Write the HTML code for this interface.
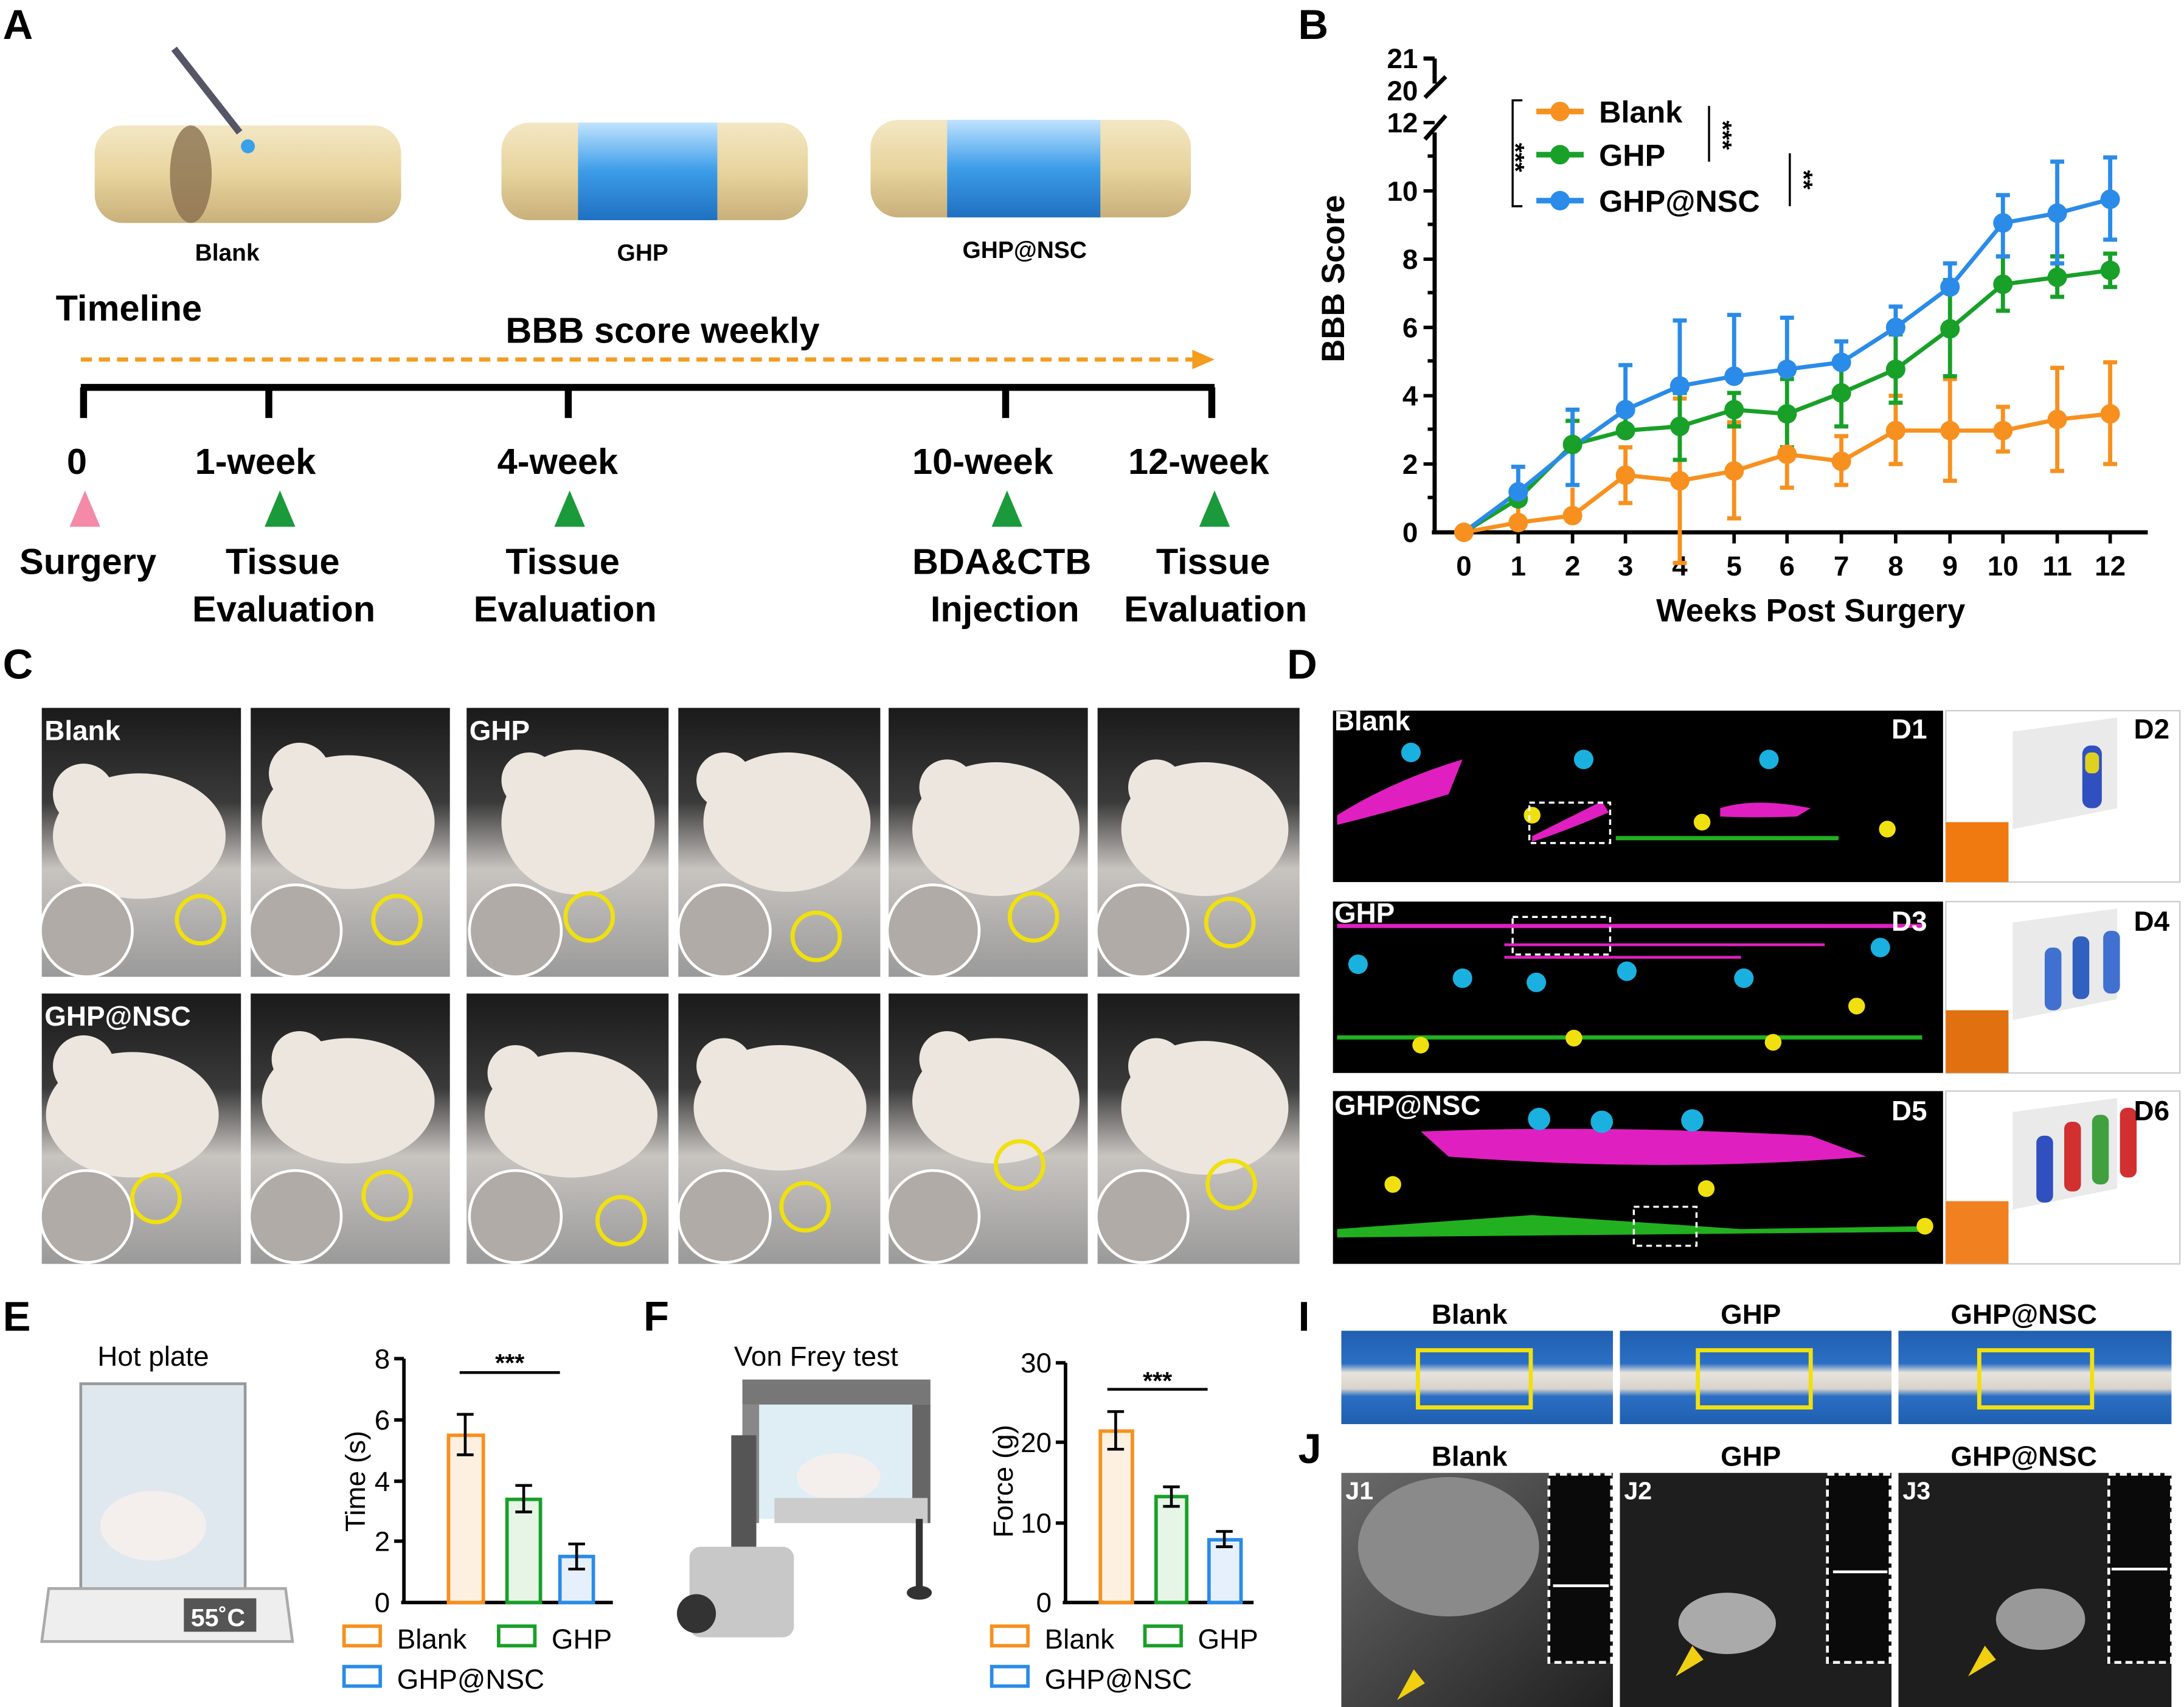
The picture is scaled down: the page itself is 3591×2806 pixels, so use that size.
<!DOCTYPE html>
<html><head><meta charset="utf-8"><style>
html,body{margin:0;padding:0;background:#fff;}
svg{display:block;}
text{font-family:"Liberation Sans",Arial,sans-serif;font-weight:bold;}
</style></head><body>
<svg width="3591" height="2806" viewBox="0 0 1568 1225" preserveAspectRatio="none" xmlns="http://www.w3.org/2000/svg">
<defs>
<linearGradient id="cyl" x1="0" y1="0" x2="0" y2="1"><stop offset="0" stop-color="#f3e7c4"/><stop offset="0.5" stop-color="#e8d49e"/><stop offset="1" stop-color="#c9b07a"/></linearGradient>
<linearGradient id="blu" x1="0" y1="0" x2="0" y2="1"><stop offset="0" stop-color="#bfe3ff"/><stop offset="0.5" stop-color="#3c9ce8"/><stop offset="1" stop-color="#1f70c0"/></linearGradient>
<linearGradient id="photo" x1="0" y1="0" x2="0" y2="1"><stop offset="0" stop-color="#1a1a1a"/><stop offset="0.35" stop-color="#3a3a3a"/><stop offset="0.6" stop-color="#c8c4c0"/><stop offset="1" stop-color="#9a9a9a"/></linearGradient>
<linearGradient id="strip" x1="0" y1="0" x2="0" y2="1"><stop offset="0" stop-color="#1f5fb0"/><stop offset="0.35" stop-color="#2b6fc4"/><stop offset="0.45" stop-color="#e8e4dc"/><stop offset="0.62" stop-color="#d8d4cc"/><stop offset="0.7" stop-color="#2b6fc4"/><stop offset="1" stop-color="#1f5fb0"/></linearGradient>
<linearGradient id="mri" x1="0" y1="0" x2="1" y2="1"><stop offset="0" stop-color="#6a6a6a"/><stop offset="1" stop-color="#202020"/></linearGradient>
</defs>
<text x="2" y="28" font-size="30">A</text>
<text x="932" y="28" font-size="30">B</text>
<text x="2" y="487" font-size="30">C</text>
<text x="924" y="487" font-size="30">D</text>
<text x="2" y="955" font-size="30">E</text>
<text x="462" y="955" font-size="30">F</text>
<text x="932" y="955" font-size="30">I</text>
<text x="932" y="1050" font-size="30">J</text>

<g>
<rect x="68" y="90" width="220" height="70" rx="20" fill="url(#cyl)"/>
<ellipse cx="137" cy="125" rx="15" ry="35" fill="#8a7150" opacity="0.8"/>
<line x1="125" y1="35" x2="172" y2="95" stroke="#556" stroke-width="5"/>
<circle cx="178" cy="105" r="5" fill="#3aa0e8"/>
<text x="140" y="187" font-size="17">Blank</text>
<rect x="360" y="88" width="220" height="70" rx="20" fill="url(#cyl)"/>
<rect x="415" y="88" width="100" height="70" fill="url(#blu)"/>
<text x="443" y="187" font-size="17">GHP</text>
<rect x="625" y="86" width="230" height="70" rx="20" fill="url(#cyl)"/>
<rect x="680" y="86" width="110" height="70" fill="url(#blu)"/>
<text x="691" y="185" font-size="17">GHP@NSC</text>
</g>
<text x="40" y="230" font-size="26">Timeline</text>
<text x="363" y="246" font-size="26">BBB score weekly</text>
<line x1="58" y1="258" x2="858" y2="258" stroke="#f39c1f" stroke-width="3" stroke-dasharray="8,5"/>
<polygon points="856,251 872,258 856,265" fill="#f39c1f"/>
<line x1="58" y1="278" x2="872" y2="278" stroke="#000" stroke-width="5"/>
<g stroke="#000" stroke-width="5">
<line x1="60" y1="278" x2="60" y2="300"/><line x1="193" y1="278" x2="193" y2="300"/><line x1="408" y1="278" x2="408" y2="300"/><line x1="722" y1="278" x2="722" y2="300"/><line x1="870" y1="278" x2="870" y2="300"/>
</g>
<g font-size="26">
<text x="48" y="340">0</text><text x="140" y="340">1-week</text><text x="357" y="340">4-week</text><text x="655" y="340">10-week</text><text x="810" y="340">12-week</text>
<text x="14" y="412">Surgery</text><text x="162" y="412">Tissue</text><text x="363" y="412">Tissue</text><text x="655" y="412">BDA&amp;CTB</text><text x="830" y="412">Tissue</text>
<text x="138" y="446">Evaluation</text><text x="340" y="446">Evaluation</text><text x="668" y="446">Injection</text><text x="807" y="446">Evaluation</text>
</g>
<polygon points="61,352 50,378 72,378" fill="#f48aa8"/>
<polygon points="201,352 190,378 212,378" fill="#1a9a3a"/>
<polygon points="409,352 398,378 420,378" fill="#1a9a3a"/>
<polygon points="723,352 712,378 734,378" fill="#1a9a3a"/>
<polygon points="872,352 861,378 883,378" fill="#1a9a3a"/>

<g stroke="#000" stroke-width="3" fill="none">
<line x1="1030" y1="42" x2="1030" y2="60"/>
<line x1="1030" y1="95" x2="1030" y2="383"/>
<line x1="1022" y1="42" x2="1030" y2="42"/>
<line x1="1023" y1="70" x2="1038" y2="55"/>
<line x1="1023" y1="100" x2="1038" y2="83"/>
<line x1="1028" y1="382" x2="1542" y2="382"/>
</g>
<g stroke="#000" stroke-width="2.5">
<line x1="1022" y1="88" x2="1030" y2="88"/>
<line x1="1022" y1="137" x2="1030" y2="137"/><line x1="1022" y1="186" x2="1030" y2="186"/><line x1="1022" y1="235" x2="1030" y2="235"/><line x1="1022" y1="284" x2="1030" y2="284"/><line x1="1022" y1="333" x2="1030" y2="333"/>
<line x1="1025" y1="112" x2="1030" y2="112"/><line x1="1025" y1="161" x2="1030" y2="161"/><line x1="1025" y1="210" x2="1030" y2="210"/><line x1="1025" y1="259" x2="1030" y2="259"/><line x1="1025" y1="308" x2="1030" y2="308"/><line x1="1025" y1="357" x2="1030" y2="357"/>
</g>
<g font-size="20" text-anchor="end">
<text x="1018" y="49">21</text><text x="1018" y="72">20</text><text x="1018" y="95">12</text><text x="1018" y="144">10</text><text x="1018" y="193">8</text><text x="1018" y="242">6</text><text x="1018" y="291">4</text><text x="1018" y="340">2</text><text x="1018" y="389">0</text>
</g>
<g font-size="20" text-anchor="middle">
<text x="1051" y="413">0</text><text x="1090" y="413">1</text><text x="1129" y="413">2</text><text x="1167" y="413">3</text><text x="1206" y="413">4</text><text x="1245" y="413">5</text><text x="1283" y="413">6</text><text x="1322" y="413">7</text><text x="1361" y="413">8</text><text x="1400" y="413">9</text><text x="1438" y="413">10</text><text x="1477" y="413">11</text><text x="1515" y="413">12</text>
</g>
<g stroke="#000" stroke-width="2.5">
<line x1="1090" y1="382" x2="1090" y2="390"/><line x1="1129" y1="382" x2="1129" y2="390"/><line x1="1167" y1="382" x2="1167" y2="390"/><line x1="1206" y1="382" x2="1206" y2="390"/><line x1="1245" y1="382" x2="1245" y2="390"/><line x1="1283" y1="382" x2="1283" y2="390"/><line x1="1322" y1="382" x2="1322" y2="390"/><line x1="1361" y1="382" x2="1361" y2="390"/><line x1="1400" y1="382" x2="1400" y2="390"/><line x1="1438" y1="382" x2="1438" y2="390"/><line x1="1477" y1="382" x2="1477" y2="390"/><line x1="1515" y1="382" x2="1515" y2="390"/>
</g>
<text x="1300" y="446" font-size="23" text-anchor="middle">Weeks Post Surgery</text>
<text transform="translate(965,200) rotate(-90)" font-size="23" text-anchor="middle">BBB Score</text>
<path d="M1093,72 H1086 V148 H1093" stroke="#000" stroke-width="1.5" fill="none"/>
<text transform="translate(1082,113) rotate(90)" font-size="18" text-anchor="middle">***</text>
<line x1="1227" y1="76" x2="1227" y2="116" stroke="#000" stroke-width="1.5"/>
<text transform="translate(1231,97) rotate(90)" font-size="18" text-anchor="middle">***</text>
<line x1="1285" y1="110" x2="1285" y2="148" stroke="#000" stroke-width="1.5"/>
<text transform="translate(1289,129) rotate(90)" font-size="18" text-anchor="middle">**</text>
<g stroke-width="4">
<line x1="1103" y1="80" x2="1137" y2="80" stroke="#f7901e"/><circle cx="1120" cy="80" r="7" fill="#f7901e"/>
<line x1="1103" y1="111" x2="1137" y2="111" stroke="#18a028"/><circle cx="1120" cy="111" r="7" fill="#18a028"/>
<line x1="1103" y1="144" x2="1137" y2="144" stroke="#2a8be8"/><circle cx="1120" cy="144" r="7" fill="#2a8be8"/>
</g>
<text x="1148" y="88" font-size="22">Blank</text>
<text x="1148" y="119" font-size="22">GHP</text>
<text x="1148" y="152" font-size="22">GHP@NSC</text>
<g fill="none" stroke-width="3">
<g stroke="#f7901e">
<polyline points="1051,382 1090,375 1129,370 1167,341 1206,345 1245,338 1283,326 1322,331 1361,309 1400,309 1438,309 1477,301 1515,297"/>
<path d="M1090,375V362M1129,370V350M1167,341V321M1167,341V361M1206,345V286M1206,345V404M1245,338V303M1245,338V372M1283,326V301M1283,326V350M1322,331V313M1322,331V348M1361,309V284M1361,309V333M1400,309V272M1400,309V345M1438,309V292M1438,309V324M1477,301V264M1477,301V338M1515,297V260M1515,297V333"/>
<path d="M1162,321h10M1162,361h10M1201,286h10M1201,404h10M1240,303h10M1240,372h10M1278,301h10M1278,350h10M1317,313h10M1317,348h10M1356,284h10M1356,333h10M1395,272h10M1395,345h10M1433,292h10M1433,324h10M1472,264h10M1472,338h10M1510,260h10M1510,333h10"/>
</g>
<g stroke="#18a028">
<polyline points="1051,382 1090,358 1129,319 1167,309 1206,306 1245,294 1283,297 1322,282 1361,265 1400,236 1438,204 1477,199 1515,194"/>
<path d="M1129,319V302M1167,309V294M1206,306V282M1206,306V330M1245,294V282M1245,294V306M1283,297V272M1283,297V321M1322,282V257M1322,282V306M1361,265V240M1361,265V289M1400,236V201M1400,236V270M1438,204V184M1438,204V223M1477,199V184M1477,199V213M1515,194V182M1515,194V206"/>
<path d="M1124,302h10M1162,294h10M1201,282h10M1201,330h10M1240,282h10M1240,306h10M1278,272h10M1278,321h10M1317,257h10M1317,306h10M1356,240h10M1356,289h10M1395,201h10M1395,270h10M1433,184h10M1433,223h10M1472,184h10M1472,213h10M1510,182h10M1510,206h10"/>
</g>
<g stroke="#2a8be8">
<polyline points="1051,382 1090,353 1129,321 1167,294 1206,277 1245,270 1283,265 1322,260 1361,235 1400,206 1438,160 1477,153 1515,143"/>
<path d="M1090,353V335M1129,321V294M1129,321V348M1167,294V262M1206,277V230M1245,270V226M1283,265V228M1322,260V245M1361,235V220M1400,206V189M1438,160V140M1438,160V184M1477,153V116M1477,153V189M1515,143V113M1515,143V172"/>
<path d="M1085,335h10M1124,294h10M1124,348h10M1162,262h10M1201,230h10M1240,226h10M1278,228h10M1317,245h10M1356,220h10M1395,189h10M1433,140h10M1433,184h10M1472,116h10M1472,189h10M1510,113h10M1510,172h10"/>
</g>
</g>
<g fill="#f7901e"><circle cx="1051" cy="382" r="7"/><circle cx="1090" cy="375" r="7"/><circle cx="1129" cy="370" r="7"/><circle cx="1167" cy="341" r="7"/><circle cx="1206" cy="345" r="7"/><circle cx="1245" cy="338" r="7"/><circle cx="1283" cy="326" r="7"/><circle cx="1322" cy="331" r="7"/><circle cx="1361" cy="309" r="7"/><circle cx="1400" cy="309" r="7"/><circle cx="1438" cy="309" r="7"/><circle cx="1477" cy="301" r="7"/><circle cx="1515" cy="297" r="7"/></g>
<g fill="#18a028"><circle cx="1090" cy="358" r="7"/><circle cx="1129" cy="319" r="7"/><circle cx="1167" cy="309" r="7"/><circle cx="1206" cy="306" r="7"/><circle cx="1245" cy="294" r="7"/><circle cx="1283" cy="297" r="7"/><circle cx="1322" cy="282" r="7"/><circle cx="1361" cy="265" r="7"/><circle cx="1400" cy="236" r="7"/><circle cx="1438" cy="204" r="7"/><circle cx="1477" cy="199" r="7"/><circle cx="1515" cy="194" r="7"/></g>
<g fill="#2a8be8"><circle cx="1090" cy="353" r="7"/><circle cx="1167" cy="294" r="7"/><circle cx="1206" cy="277" r="7"/><circle cx="1245" cy="270" r="7"/><circle cx="1283" cy="265" r="7"/><circle cx="1322" cy="260" r="7"/><circle cx="1361" cy="235" r="7"/><circle cx="1400" cy="206" r="7"/><circle cx="1438" cy="160" r="7"/><circle cx="1477" cy="153" r="7"/><circle cx="1515" cy="143" r="7"/></g>

<g>
<rect x="30" y="508" width="143" height="193" fill="url(#photo)"/>
<rect x="180" y="508" width="143" height="193" fill="url(#photo)"/>
<rect x="335" y="508" width="145" height="193" fill="url(#photo)"/>
<rect x="487" y="508" width="145" height="193" fill="url(#photo)"/>
<rect x="638" y="508" width="143" height="193" fill="url(#photo)"/>
<rect x="788" y="508" width="145" height="193" fill="url(#photo)"/>
<rect x="30" y="713" width="143" height="194" fill="url(#photo)"/>
<rect x="180" y="713" width="143" height="194" fill="url(#photo)"/>
<rect x="335" y="713" width="145" height="194" fill="url(#photo)"/>
<rect x="487" y="713" width="145" height="194" fill="url(#photo)"/>
<rect x="638" y="713" width="143" height="194" fill="url(#photo)"/>
<rect x="788" y="713" width="145" height="194" fill="url(#photo)"/>
</g>
<g fill="#ece6de">
<ellipse cx="100" cy="600" rx="62" ry="45"/><circle cx="60" cy="570" r="22"/>
<ellipse cx="250" cy="590" rx="62" ry="48"/><circle cx="215" cy="555" r="22"/>
<ellipse cx="415" cy="590" rx="55" ry="52"/><circle cx="380" cy="560" r="20"/>
<ellipse cx="565" cy="590" rx="60" ry="50"/><circle cx="520" cy="560" r="20"/>
<ellipse cx="715" cy="595" rx="60" ry="48"/><circle cx="680" cy="565" r="20"/>
<ellipse cx="865" cy="595" rx="60" ry="48"/><circle cx="830" cy="565" r="20"/>
<ellipse cx="95" cy="800" rx="62" ry="45"/><circle cx="60" cy="765" r="22"/>
<ellipse cx="250" cy="790" rx="62" ry="45"/><circle cx="215" cy="760" r="20"/>
<ellipse cx="410" cy="800" rx="62" ry="45"/><circle cx="370" cy="770" r="20"/>
<ellipse cx="560" cy="795" rx="62" ry="45"/><circle cx="520" cy="765" r="20"/>
<ellipse cx="715" cy="790" rx="60" ry="45"/><circle cx="680" cy="760" r="20"/>
<ellipse cx="865" cy="795" rx="60" ry="48"/><circle cx="830" cy="765" r="20"/>
</g>
<g fill="#b0aba6" stroke="#fff" stroke-width="2">
<circle cx="62" cy="668" r="33"/><circle cx="212" cy="668" r="33"/><circle cx="370" cy="668" r="33"/><circle cx="520" cy="668" r="33"/><circle cx="670" cy="668" r="33"/><circle cx="820" cy="668" r="33"/>
<circle cx="62" cy="873" r="33"/><circle cx="212" cy="873" r="33"/><circle cx="370" cy="873" r="33"/><circle cx="520" cy="873" r="33"/><circle cx="670" cy="873" r="33"/><circle cx="820" cy="873" r="33"/>
</g>
<g fill="none" stroke="#f0e010" stroke-width="3">
<circle cx="144" cy="660" r="17"/><circle cx="285" cy="660" r="17"/><circle cx="423" cy="658" r="17"/><circle cx="586" cy="672" r="17"/><circle cx="742" cy="658" r="17"/><circle cx="883" cy="662" r="17"/>
<circle cx="112" cy="860" r="17"/><circle cx="278" cy="858" r="17"/><circle cx="446" cy="876" r="17"/><circle cx="578" cy="866" r="17"/><circle cx="732" cy="836" r="17"/><circle cx="884" cy="850" r="17"/>
</g>
<g fill="#fff" font-size="20"><text x="32" y="531">Blank</text><text x="337" y="531">GHP</text><text x="32" y="736">GHP@NSC</text></g>

<rect x="957" y="510" width="438" height="123" fill="#000"/>
<rect x="957" y="647" width="438" height="123" fill="#000"/>
<rect x="957" y="783" width="438" height="124" fill="#000"/>
<g fill="#e01fc0">
<path d="M960,585 Q1000,560 1050,545 L1040,570 Q1000,582 960,592Z"/>
<path d="M1100,600 Q1130,585 1150,575 L1155,583 Q1120,598 1100,604Z"/>
<path d="M1235,580 Q1260,572 1300,580 L1290,586 Q1260,587 1235,586Z"/>
<rect x="960" y="663" width="420" height="3"/><rect x="1080" y="677" width="230" height="2"/><rect x="1080" y="686" width="170" height="2"/>
<path d="M1020,812 Q1150,807 1300,815 L1340,830 Q1200,842 1040,830Z"/>
</g>
<g fill="#22b020"><rect x="960" y="743" width="420" height="3"/><rect x="1160" y="600" width="160" height="3"/><path d="M960,882 L1100,872 L1250,882 L1380,880 L1380,884 L960,888Z"/></g>
<g fill="#1ab0e0"><circle cx="1013" cy="540" r="7"/><circle cx="1137" cy="545" r="7"/><circle cx="1270" cy="545" r="7"/><circle cx="975" cy="692" r="7"/><circle cx="1050" cy="702" r="7"/><circle cx="1103" cy="705" r="7"/><circle cx="1168" cy="697" r="7"/><circle cx="1252" cy="702" r="7"/><circle cx="1350" cy="680" r="7"/><circle cx="1105" cy="803" r="8"/><circle cx="1150" cy="805" r="8"/><circle cx="1215" cy="804" r="8"/></g>
<g fill="#f0e010"><circle cx="1100" cy="585" r="6"/><circle cx="1222" cy="590" r="6"/><circle cx="1355" cy="595" r="6"/><circle cx="1020" cy="750" r="6"/><circle cx="1130" cy="745" r="6"/><circle cx="1273" cy="748" r="6"/><circle cx="1333" cy="722" r="6"/><circle cx="1000" cy="850" r="6"/><circle cx="1225" cy="853" r="6"/><circle cx="1382" cy="880" r="6"/></g>
<g fill="none" stroke="#fff" stroke-width="1.5" stroke-dasharray="4,3"><rect x="1098" y="576" width="58" height="29"/><rect x="1086" y="658" width="70" height="27"/><rect x="1173" y="866" width="45" height="28"/></g>
<g fill="#fff" font-size="20"><text x="958" y="524">Blank</text><text x="958" y="662">GHP</text><text x="958" y="800">GHP@NSC</text><text x="1358" y="530">D1</text><text x="1358" y="668">D3</text><text x="1358" y="804">D5</text></g>
<g>
<rect x="1397" y="510" width="168" height="123" fill="#fff" stroke="#ccc"/>
<rect x="1397" y="647" width="168" height="123" fill="#fff" stroke="#ccc"/>
<rect x="1397" y="783" width="168" height="124" fill="#fff" stroke="#ccc"/>
<rect x="1397" y="590" width="45" height="43" fill="#f07a10"/>
<rect x="1397" y="725" width="45" height="45" fill="#e07010"/>
<rect x="1397" y="862" width="45" height="45" fill="#f08020"/>
<polygon points="1445,525 1520,515 1520,580 1445,595" fill="#eaeaea"/>
<polygon points="1445,662 1520,652 1520,717 1445,732" fill="#eaeaea"/>
<polygon points="1445,798 1520,788 1520,853 1445,868" fill="#eaeaea"/>
<rect x="1495" y="535" width="14" height="45" rx="6" fill="#3050c0"/><rect x="1497" y="540" width="10" height="15" rx="4" fill="#e0d020"/>
<rect x="1468" y="680" width="12" height="45" rx="5" fill="#4070d0"/><rect x="1488" y="672" width="12" height="45" rx="5" fill="#3060c0"/><rect x="1510" y="668" width="12" height="45" rx="5" fill="#4070d0"/>
<rect x="1462" y="815" width="12" height="48" rx="5" fill="#3050c0"/><rect x="1482" y="805" width="12" height="50" rx="5" fill="#d03030"/><rect x="1502" y="800" width="12" height="50" rx="5" fill="#40a040"/><rect x="1522" y="795" width="12" height="50" rx="5" fill="#d03030"/>
<g font-size="20" fill="#000"><text x="1532" y="530">D2</text><text x="1532" y="668">D4</text><text x="1532" y="804">D6</text></g>
</g>

<text x="70" y="980" font-size="20" style="font-weight:normal">Hot plate</text>
<rect x="58" y="993" width="118" height="150" fill="#dfe8ee" stroke="#999" stroke-width="2"/>
<ellipse cx="110" cy="1095" rx="38" ry="25" fill="#f4efec"/>
<polygon points="35,1140 205,1140 210,1178 30,1178" fill="#eeeeee" stroke="#aaa" stroke-width="2"/>
<rect x="132" y="1147" width="52" height="24" fill="#555"/>
<text x="137" y="1167" font-size="18" fill="#fff">55˚C</text>
<line x1="290" y1="975" x2="290" y2="1151" stroke="#000" stroke-width="2.5"/>
<line x1="288" y1="1150" x2="440" y2="1150" stroke="#000" stroke-width="2.5"/>
<g stroke="#000" stroke-width="2.5"><line x1="283" y1="975" x2="290" y2="975"/><line x1="283" y1="1019" x2="290" y2="1019"/><line x1="283" y1="1063" x2="290" y2="1063"/><line x1="283" y1="1106" x2="290" y2="1106"/></g>
<g font-size="20" text-anchor="end"><text x="280" y="982" style="font-weight:normal">8</text><text x="280" y="1026" style="font-weight:normal">6</text><text x="280" y="1070" style="font-weight:normal">4</text><text x="280" y="1113" style="font-weight:normal">2</text><text x="280" y="1157" style="font-weight:normal">0</text></g>
<text transform="translate(262,1063) rotate(-90)" font-size="20" text-anchor="middle" style="font-weight:normal">Time (s)</text>
<rect x="322" y="1030" width="25" height="120" fill="#fdf0e0" stroke="#f7901e" stroke-width="2.5"/>
<rect x="364" y="1076" width="24" height="74" fill="#e6f5e6" stroke="#18a028" stroke-width="2.5"/>
<rect x="402" y="1117" width="24" height="33" fill="#e6f0fc" stroke="#2a8be8" stroke-width="2.5"/>
<g stroke="#000" stroke-width="2"><path d="M334,1015V1044M328,1015h12M328,1044h12M376,1066V1085M370,1066h12M370,1085h12M414,1108V1126M408,1108h12M408,1126h12"/><line x1="330" y1="985" x2="402" y2="985"/></g>
<text x="366" y="984" font-size="18" text-anchor="middle">***</text>
<g font-size="20">
<rect x="247" y="1167" width="26" height="14" fill="none" stroke="#f7901e" stroke-width="2.5"/><text x="285" y="1183" style="font-weight:normal">Blank</text>
<rect x="358" y="1167" width="26" height="14" fill="none" stroke="#18a028" stroke-width="2.5"/><text x="396" y="1183" style="font-weight:normal">GHP</text>
<rect x="247" y="1196" width="26" height="14" fill="none" stroke="#2a8be8" stroke-width="2.5"/><text x="285" y="1212" style="font-weight:normal">GHP@NSC</text>
</g>

<text x="527" y="980" font-size="20" style="font-weight:normal">Von Frey test</text>
<rect x="533" y="990" width="135" height="18" fill="#777"/>
<rect x="545" y="1008" width="110" height="82" fill="#dfeef5"/>
<rect x="533" y="1008" width="12" height="85" fill="#888"/><rect x="655" y="1008" width="13" height="85" fill="#666"/>
<ellipse cx="602" cy="1060" rx="30" ry="17" fill="#f4efec"/>
<rect x="556" y="1075" width="110" height="18" fill="#ccc"/>
<rect x="525" y="1030" width="18" height="80" fill="#555"/>
<rect x="495" y="1110" width="75" height="65" rx="8" fill="#c8c8c8"/>
<circle cx="500" cy="1158" r="14" fill="#333"/>
<line x1="660" y1="1090" x2="660" y2="1140" stroke="#333" stroke-width="5"/><ellipse cx="660" cy="1143" rx="9" ry="5" fill="#333"/>
<line x1="765" y1="978" x2="765" y2="1151" stroke="#000" stroke-width="2.5"/>
<line x1="763" y1="1150" x2="900" y2="1150" stroke="#000" stroke-width="2.5"/>
<g stroke="#000" stroke-width="2.5"><line x1="758" y1="978" x2="765" y2="978"/><line x1="758" y1="1035" x2="765" y2="1035"/><line x1="758" y1="1093" x2="765" y2="1093"/></g>
<g font-size="20" text-anchor="end"><text x="755" y="985" style="font-weight:normal">30</text><text x="755" y="1042" style="font-weight:normal">20</text><text x="755" y="1100" style="font-weight:normal">10</text><text x="755" y="1157" style="font-weight:normal">0</text></g>
<text transform="translate(727,1063) rotate(-90)" font-size="20" text-anchor="middle" style="font-weight:normal">Force (g)</text>
<rect x="790" y="1027" width="23" height="123" fill="#fdf0e0" stroke="#f7901e" stroke-width="2.5"/>
<rect x="830" y="1074" width="22" height="76" fill="#e6f5e6" stroke="#18a028" stroke-width="2.5"/>
<rect x="868" y="1105" width="23" height="45" fill="#e6f0fc" stroke="#2a8be8" stroke-width="2.5"/>
<g stroke="#000" stroke-width="2"><path d="M801,1013V1040M795,1013h12M795,1040h12M841,1067V1081M835,1067h12M835,1081h12M879,1099V1110M873,1099h12M873,1110h12"/><line x1="795" y1="997" x2="867" y2="997"/></g>
<text x="831" y="997" font-size="18" text-anchor="middle">***</text>
<g font-size="20">
<rect x="712" y="1167" width="26" height="14" fill="none" stroke="#f7901e" stroke-width="2.5"/><text x="750" y="1183" style="font-weight:normal">Blank</text>
<rect x="822" y="1167" width="26" height="14" fill="none" stroke="#18a028" stroke-width="2.5"/><text x="860" y="1183" style="font-weight:normal">GHP</text>
<rect x="712" y="1196" width="26" height="14" fill="none" stroke="#2a8be8" stroke-width="2.5"/><text x="750" y="1212" style="font-weight:normal">GHP@NSC</text>
</g>

<g font-size="20" text-anchor="middle"><text x="1055" y="950">Blank</text><text x="1257" y="950">GHP</text><text x="1453" y="950">GHP@NSC</text></g>
<rect x="963" y="955" width="195" height="67" fill="url(#strip)"/>
<rect x="1163" y="955" width="195" height="67" fill="url(#strip)"/>
<rect x="1363" y="955" width="196" height="67" fill="url(#strip)"/>
<g fill="none" stroke="#f0e010" stroke-width="3"><rect x="1018" y="969" width="81" height="41"/><rect x="1219" y="969" width="81" height="41"/><rect x="1421" y="969" width="81" height="41"/></g>

<g font-size="20" text-anchor="middle"><text x="1055" y="1052">Blank</text><text x="1257" y="1052">GHP</text><text x="1453" y="1052">GHP@NSC</text></g>
<rect x="963" y="1057" width="195" height="168" fill="url(#mri)"/>
<rect x="1163" y="1057" width="195" height="168" fill="#1e1e1e"/>
<rect x="1363" y="1057" width="196" height="168" fill="#1e1e1e"/>
<ellipse cx="1040" cy="1110" rx="65" ry="50" fill="#8a8a8a"/>
<ellipse cx="1240" cy="1165" rx="35" ry="22" fill="#aaa"/>
<ellipse cx="1465" cy="1162" rx="32" ry="22" fill="#999"/>
<g fill="#0a0a0a" stroke="#fff" stroke-width="2" stroke-dasharray="5,3"><rect x="1112" y="1058" width="45" height="135"/><rect x="1312" y="1058" width="45" height="135"/><rect x="1514" y="1058" width="45" height="135"/></g>
<g stroke="#fff" stroke-width="2"><line x1="1115" y1="1138" x2="1155" y2="1138"/><line x1="1316" y1="1128" x2="1355" y2="1128"/><line x1="1516" y1="1126" x2="1556" y2="1126"/></g>
<g fill="#f0d010"><polygon points="1003,1220 1015,1198 1023,1208"/><polygon points="1203,1203 1215,1181 1223,1191"/><polygon points="1413,1203 1425,1181 1433,1191"/></g>
<g fill="#fff" font-size="18"><text x="966" y="1076">J1</text><text x="1166" y="1076">J2</text><text x="1366" y="1076">J3</text></g>
</svg>
</body></html>
